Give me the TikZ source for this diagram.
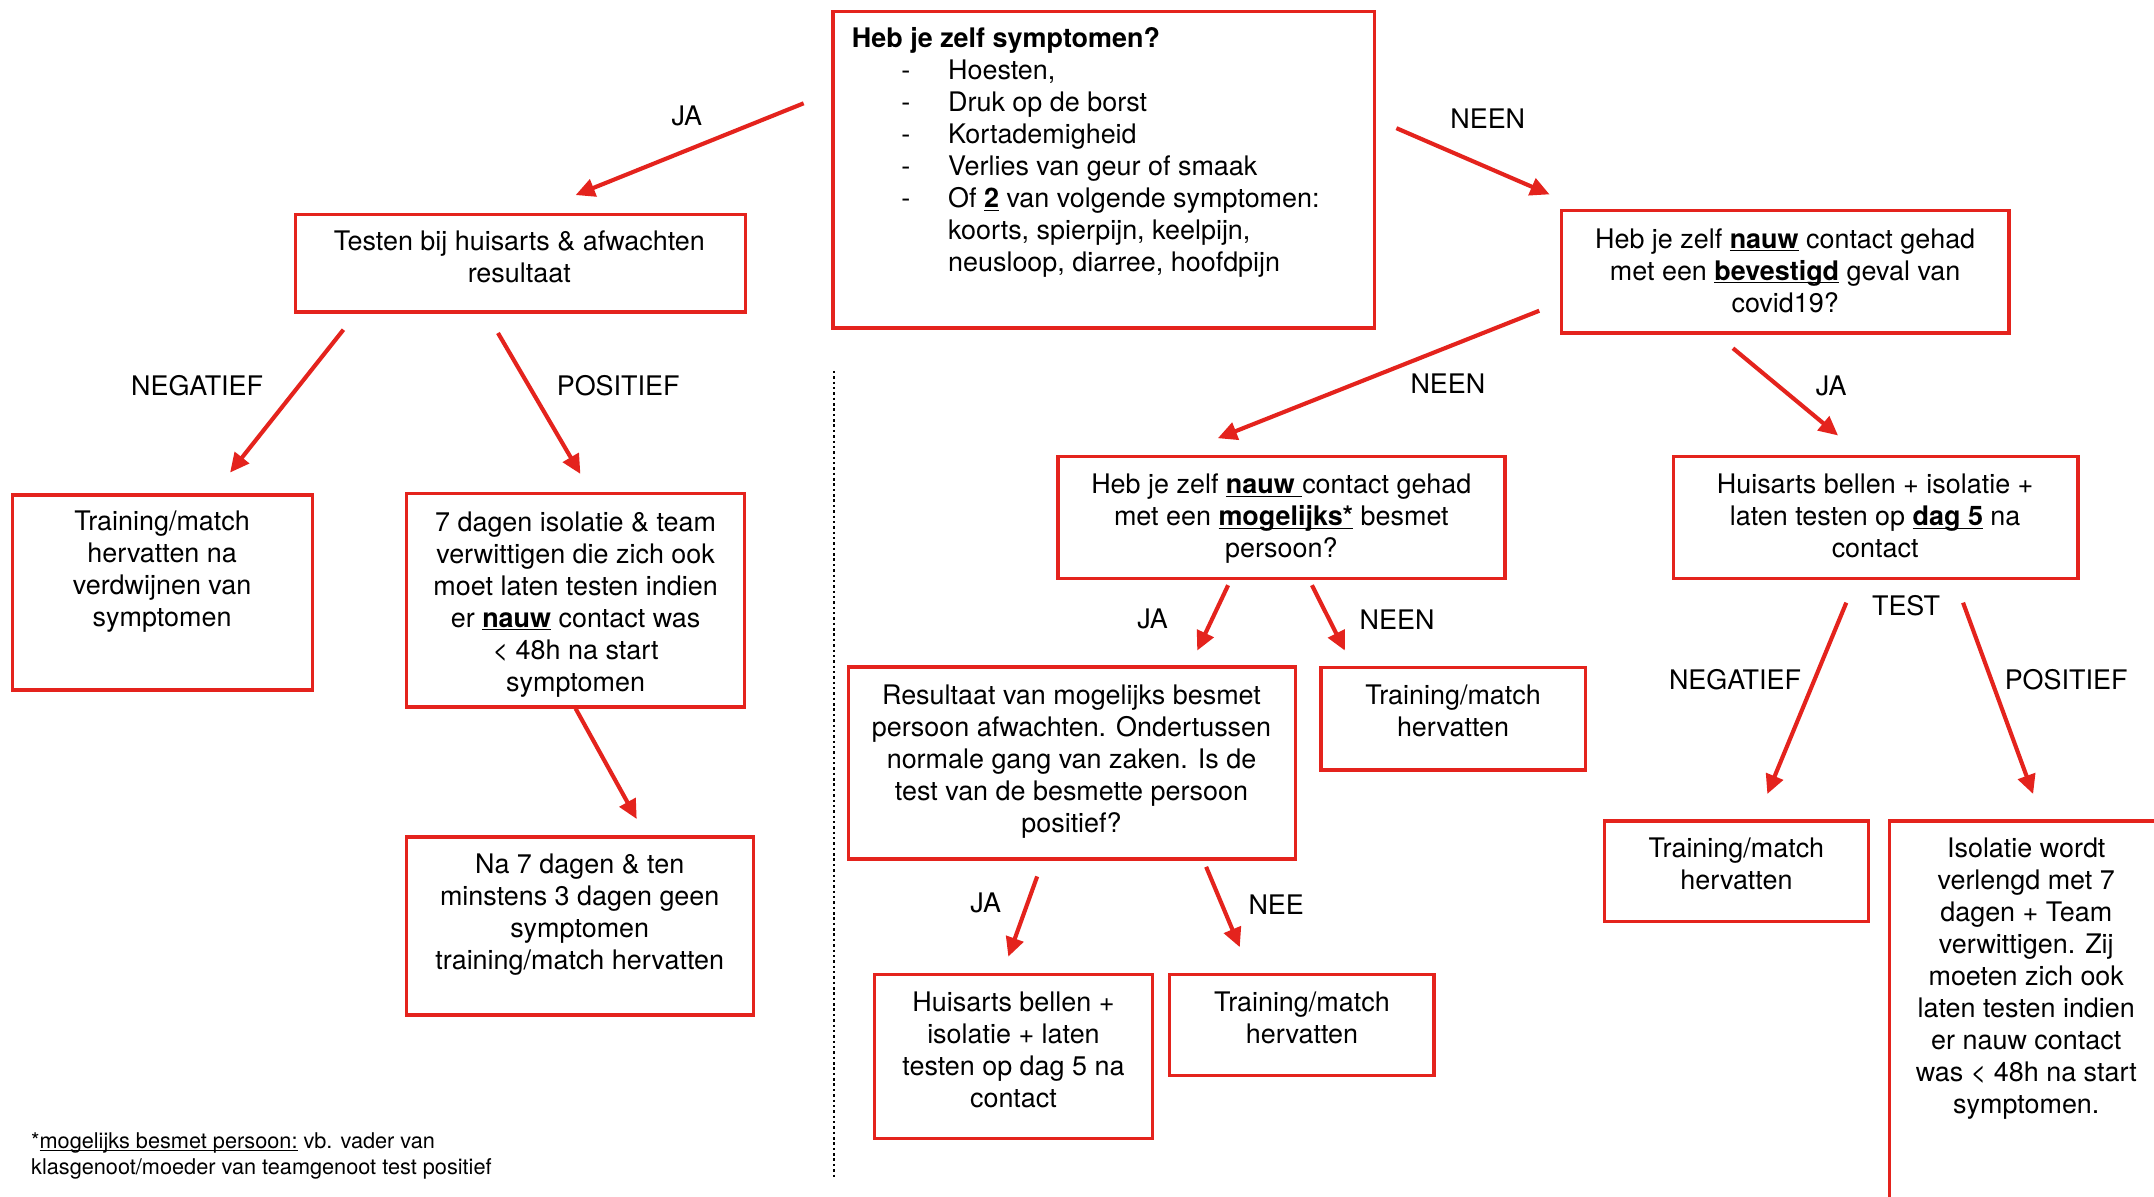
\documentclass[tikz,border=0pt]{standalone}
\usepackage{fontspec}
\setmainfont{TeX Gyre Heros}
\usetikzlibrary{arrows.meta}
\definecolor{boxred}{RGB}{228,35,29}
\newcommand{\ulbox}[1]{\underline{\smash{#1}}}
\begin{document}
\begin{tikzpicture}[x = 1pt, y = -1pt,
  box/.style = {draw = boxred, line width = 2.5pt, inner sep = 0pt},
  txt/.style = {anchor = north, align = center, inner sep = 0pt, font = \fontsize{19.6}{23.3}\selectfont},
  lbl/.style = {inner sep = 0pt, font = \fontsize{19.6}{23.3}\selectfont},
  arr/.style = {draw = boxred, line width = 3pt, -{Triangle[length = 14pt, width = 13pt]}}]
      \useasboundingbox (0,0) rectangle (1568,871.1);
      \fill[white] (0,0) rectangle (1568,871.1);
      \clip (0,0) rectangle (1568,871.1);
      \node(symp) [box, minimum width = 394.1, minimum height = 230.4] at (803.45, 123.6) {};
      \node(huis) [box, minimum width = 327.5, minimum height = 71] at (378.75, 191.5) {};
      \node(bevest) [box, minimum width = 326, minimum height = 89.2] at (1299.5, 197.8) {};
      \node(herst) [box, minimum width = 218.5, minimum height = 142.1] at (118.25, 431.25) {};
      \node(isol) [box, minimum width = 246, minimum height = 155.1] at (419, 436.95) {};
      \node(nazev) [box, minimum width = 252.4, minimum height = 129.7] at (422.2, 674.15) {};
      \node(mogel) [box, minimum width = 325.5, minimum height = 88.8] at (932.75, 376.8) {};
      \node(bellen) [box, minimum width = 294.5, minimum height = 88.8] at (1365.25, 376.8) {};
      \node(result) [box, minimum width = 325.5, minimum height = 139.7] at (780.25, 555.45) {};
      \node(trainA) [box, minimum width = 192.5, minimum height = 74.4] at (1057.75, 523.3) {};
      \node(trainB) [box, minimum width = 192, minimum height = 73.2] at (1264, 634.2) {};
      \node(verleng) [box, minimum width = 199.5, minimum height = 302.4] at (1475.25, 748.8) {};
      \node(bellenB) [box, minimum width = 202.5, minimum height = 119.3] at (737.75, 769.15) {};
      \node(trainC) [box, minimum width = 192.5, minimum height = 73.3] at (947.75, 746.15) {};

      \node(sympT) [txt, anchor = north west, align = left] at (620, 20) {\textbf{Heb je zelf symptomen?}\\
        \hspace*{36pt}\makebox[34pt][l]{-}Hoesten,\\
        \hspace*{36pt}\makebox[34pt][l]{-}Druk op de borst\\
        \hspace*{36pt}\makebox[34pt][l]{-}Kortademigheid\\
        \hspace*{36pt}\makebox[34pt][l]{-}Verlies van geur of smaak\\
        \hspace*{36pt}\makebox[34pt][l]{-}Of \ulbox{\textbf{2}} van volgende symptomen:\\
        \hspace*{70pt}koorts, spierpijn, keelpijn,\\
        \hspace*{70pt}neusloop, diarree, hoofdpijn};
      \node(huisT) [txt] at (378, 168) {Testen bij huisarts \& afwachten\\resultaat};
      \node(bevestT) [txt] at (1299.5, 166) {Heb je zelf \ulbox{\textbf{nauw}} contact gehad\\met een \ulbox{\textbf{bevestigd}} geval van\\covid19?};
      \node(herstT) [txt] at (118, 372) {Training/match\\hervatten na\\verdwijnen van\\symptomen};
      \node(isolT) [txt] at (419, 372.5) {7 dagen isolatie \& team\\verwittigen die zich ook\\moet laten testen indien\\er \ulbox{\textbf{nauw}} contact was\\< 48h na start\\symptomen};
      \node(nazevT) [txt] at (422, 621.5) {Na 7 dagen \& ten\\minstens 3 dagen geen\\symptomen\\training/match hervatten};
      \node(mogelT) [txt] at (932.75, 345) {Heb je zelf \ulbox{\textbf{nauw}\ }contact gehad\\met een \ulbox{\textbf{mogelijks*}} besmet\\persoon?};
      \node(bellenT) [txt] at (1365, 345) {Huisarts bellen + isolatie +\\laten testen op \ulbox{\textbf{dag 5}} na\\contact};
      \node(resultT) [txt] at (780, 498) {Resultaat van mogelijks besmet\\persoon afwachten. Ondertussen\\normale gang van zaken. Is de\\test van de besmette persoon\\positief?};
      \node(trainAT) [txt] at (1057.75, 498.5) {Training/match\\hervatten};
      \node(trainBT) [txt] at (1264, 609.5) {Training/match\\hervatten};
      \node(verlengT) [txt] at (1475, 609.5) {Isolatie wordt\\verlengd met 7\\dagen + Team\\verwittigen. Zij\\moeten zich ook\\laten testen indien\\er nauw contact\\was < 48h na start\\symptomen.};
      \node(bellenBT) [txt] at (737.75, 721.5) {Huisarts bellen +\\isolatie + laten\\testen op dag 5 na\\contact};
      \node(trainCT) [txt] at (947.75, 721.5) {Training/match\\hervatten};
      \node(voetnoot) [txt, anchor = north west, align = left, font = \fontsize{15.8}{19.5}\selectfont] at (22.5, 824) {*\ulbox{mogelijks besmet persoon:} vb. vader van\\klasgenoot/moeder van teamgenoot test positief};

      \node(jaA) [lbl] at (500, 84.4) {JA};
      \node(neenA) [lbl] at (1083, 86.4) {NEEN};
      \node(negA) [lbl] at (143.5, 280.8) {NEGATIEF};
      \node(posA) [lbl] at (450, 280.8) {POSITIEF};
      \node(neenB) [lbl] at (1054, 279.5) {NEEN};
      \node(jaB) [lbl] at (1333, 281) {JA};
      \node(jaC) [lbl] at (839, 450.8) {JA};
      \node(neenC) [lbl] at (1017, 450.8) {NEEN};
      \node(test) [lbl] at (1387.5, 441) {TEST};
      \node(negB) [lbl] at (1263, 494.5) {NEGATIEF};
      \node(posB) [lbl] at (1504, 494.5) {POSITIEF};
      \node(jaD) [lbl] at (717.5, 657.5) {JA};
      \node(nee) [lbl] at (929, 658.3) {NEE};

      \coordinate(a1) at (585, 75.2);
      \coordinate(b1) at (419, 142);
      \coordinate(a2) at (1016.5, 93.3);
      \coordinate(b2) at (1128, 141.5);
      \coordinate(a3) at (250, 240);
      \coordinate(b3) at (167.5, 344);
      \coordinate(a4) at (362.5, 242.4);
      \coordinate(b4) at (422.5, 345);
      \coordinate(b5) at (463.5, 596.2);
      \coordinate(a6) at (1120.5, 226.2);
      \coordinate(b6) at (886.5, 319);
      \coordinate(a7) at (1261.5, 253.5);
      \coordinate(b7) at (1338, 317);
      \coordinate(a8) at (894, 426);
      \coordinate(b8) at (871.5, 473.6);
      \coordinate(a9) at (955, 426);
      \coordinate(b9) at (979, 473.6);
      \coordinate(a10) at (1344, 438.7);
      \coordinate(b10) at (1286.5, 578);
      \coordinate(a11) at (1429, 438.7);
      \coordinate(b11) at (1480, 578);
      \coordinate(a12) at (755, 638);
      \coordinate(b12) at (734, 696.4);
      \coordinate(a13) at (878, 631);
      \coordinate(b13) at (902.5, 689.5);
      \coordinate(d1) at (607.2, 270);
      \coordinate(d2) at (607.2, 858);

      \path[]
      (a1) edge[arr] (b1)
      (a2) edge[arr] (b2)
      (a3) edge[arr] (b3)
      (a4) edge[arr] (b4)
      (isol.south) edge[arr] (b5)
      (a6) edge[arr] (b6)
      (a7) edge[arr] (b7)
      (a8) edge[arr] (b8)
      (a9) edge[arr] (b9)
      (a10) edge[arr] (b10)
      (a11) edge[arr] (b11)
      (a12) edge[arr] (b12)
      (a13) edge[arr] (b13);
      \draw[line width = 1.8pt, dash pattern = on 1.8pt off 2.1pt] (d1) -- (d2);
\end{tikzpicture}
\end{document}
